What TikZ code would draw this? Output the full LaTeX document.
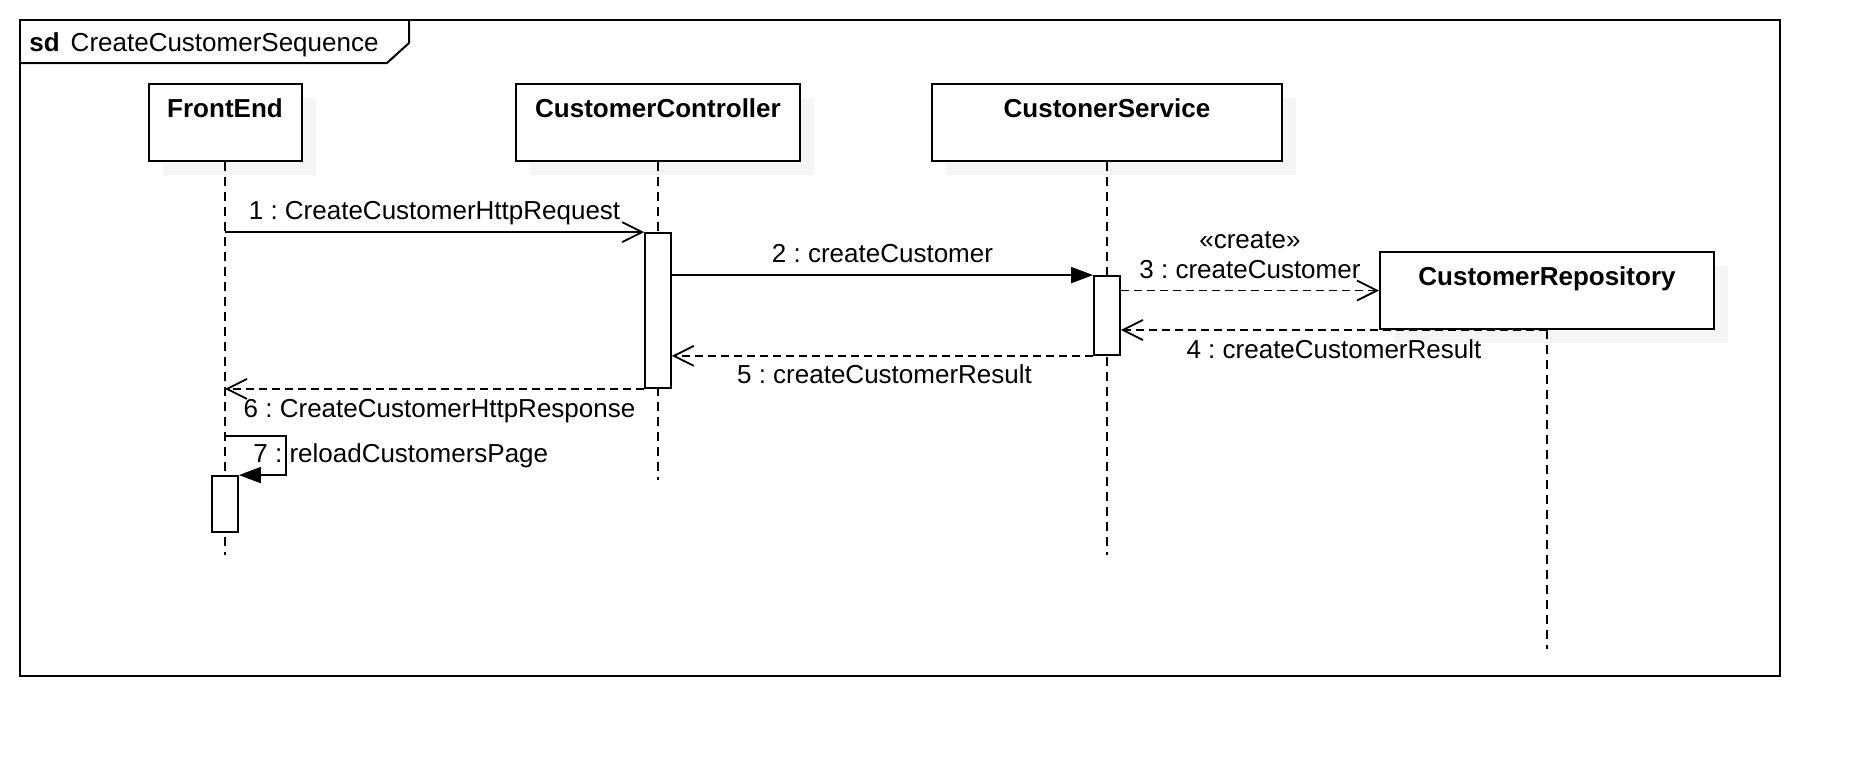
\documentclass[tikz,border=0pt]{standalone}
\usepackage{fontspec}
\setmainfont{Liberation Sans}
\usetikzlibrary{arrows.meta, shadows, positioning}

\newcommand\umlfont{\fontsize{13pt}{14.5pt}\selectfont}
\frenchspacing

\tikzset{
  lifebox/.style={draw, line width=1pt, fill=white, font=\umlfont\bfseries,
    inner xsep=0pt, inner ysep=0pt, text height=16.6pt, text depth=21.9pt,
    drop shadow={shadow xshift=7pt, shadow yshift=-7pt, fill=black!4, draw=none, opacity=1}},
  lifeline/.style={line width=0.8pt, dash pattern=on 4.5pt off 3pt},
  activation/.style={draw, line width=0.9pt, fill=white, inner sep=0pt, minimum width=13pt},
  call/.style={line width=0.9pt, -{Triangle[length=11pt, width=8pt]}},
  async/.style={line width=0.9pt, -{Straight Barb[length=10pt, width=10pt]}},
  reply/.style={line width=0.9pt, dash pattern=on 4pt off 2.5pt, -{Straight Barb[length=10pt, width=10pt]}},
  msglabel/.style={inner sep=0pt, text height=9.4pt, text depth=0pt},
}

\begin{document}
\begin{tikzpicture}[x=0.5pt, y=-0.5pt, font=\umlfont]
    \useasboundingbox (0,0) rectangle (1860,756);

    % frame
    \draw[line width=1pt] (20,20) rectangle (1780,676);
    \draw[line width=1pt] (20,63) -- (387,63) -- (409,43) -- (409,20);
    \node[anchor=base west, inner sep=0pt] (title) at (29,51) {\textbf{sd}\hspace{5.5pt}CreateCustomerSequence};

    % participants
    \node[lifebox, minimum width=76.5pt] (fe) at (225,122.5) {FrontEnd};
    \node[lifebox, minimum width=142pt] (cc) at (658,122.5) {CustomerController};
    \node[lifebox, minimum width=175pt] (cs) at (1107,122.5) {CustonerService};
    \node[lifebox, minimum width=167pt] (cr) at (1547,290.5) {CustomerRepository};

    \coordinate (feend) at (225,555);
    \coordinate (ccend) at (658,480);
    \coordinate (csend) at (1107,555);
    \coordinate (crend) at (1547,649);

    \draw[lifeline]
    (fe) -- (feend)
    (cc) -- (ccend)
    (cs) -- (csend)
    (cr) -- (crend);

    % activations
    \node[activation, minimum height=77.5pt] (ccact) at (658,310.5) {};
    \node[activation, minimum height=39.5pt] (csact) at (1107,315.5) {};
    \node[activation, minimum height=28pt] (feact) at (225,504) {};

    % messages
    \draw
    (fe |- ccact.north) edge[async] node[msglabel, above=6pt] (m1) {1 : CreateCustomerHttpRequest} (ccact.north west)
    (ccact.east |- csact.north) edge[call] node[msglabel, above=6pt] (m2) {2 : createCustomer} (csact.north west)
    (csact.east |- cr.west) edge[reply] node[msglabel, above=5.5pt] (m3) {3 : createCustomer} (cr.west)
    (cr.south) edge[reply] node[msglabel, below=4.5pt] (m4) {4 : createCustomerResult} (csact.east |- cr.south)
    (csact.south west) edge[reply] node[msglabel, below=4pt, xshift=1pt] (m5) {5 : createCustomerResult} (ccact.east |- csact.south west)
    (ccact.south west) edge[reply] node[msglabel, below=4.5pt, xshift=2.5pt] (m6) {6 : CreateCustomerHttpResponse} (fe |- ccact.south west);
    \node[msglabel, above=5.1pt of m3] (m3s) {«create»};

    % self message
    \coordinate (selfout) at (225,436);
    \draw[call] (selfout) -- ++(61,0) |- (feact.north east);
    \node[msglabel, anchor=base west] (m7) at (253,462) {7 : reloadCustomersPage};
\end{tikzpicture}
\end{document}
